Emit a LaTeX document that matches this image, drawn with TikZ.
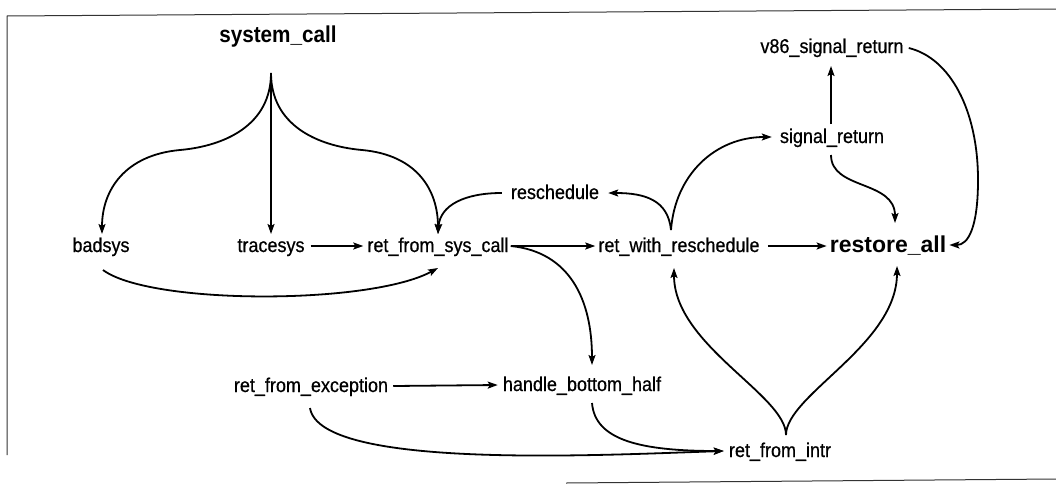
\documentclass[tikz,border=0pt]{standalone}
\usepackage{fontspec}
\setmainfont{Liberation Sans}
\newfontfamily\labelfont[FakeStretch=0.9,FakeBold=0.6]{Liberation Sans}
\newfontfamily\headfont[FakeStretch=0.9]{Liberation Sans Bold}
\usetikzlibrary{arrows.meta,calc}

\begin{document}
\begin{tikzpicture}[x=1pt,y=-1pt,
  lbl/.style={inner sep=0pt,anchor=base,font=\labelfont\fontsize{20}{22}\selectfont},
  head/.style={inner sep=0pt,anchor=base,font=\headfont\fontsize{23}{26}\selectfont},
  flow/.style={line width=1.8pt,-{Stealth[length=10pt,width=7pt,inset=2pt]}},
  frameline/.style={line width=1pt,black!80}]
\useasboundingbox (0,0) rectangle (1056,490);

% page frame
\draw[frameline] (7,455) -- (7,16) -- (1056,9);
\draw[frameline] (566,483) -- (1056,479);

% routines
\node[head] (sysc) at (278,42) {system\_call};
\node[lbl]  (badsys)   at (101,252) {badsys};
\node[lbl]  (tracesys) at (271,252) {tracesys};
\node[lbl]  (rfsc)     at (438,252) {ret\_from\_sys\_call};
\node[lbl]  (resched)  at (555,199) {reschedule};
\node[lbl]  (rwr)      at (679,252) {ret\_with\_reschedule};
\node[head,font=\bfseries\fontsize{23}{26}\selectfont] (restore) at (888,252) {restore\_all};
\node[lbl]  (sigret)   at (832,143) {signal\_return};
\node[lbl]  (v86)      at (832,53)  {v86\_signal\_return};
\node[lbl]  (rfe)      at (311,392) {ret\_from\_exception};
\node[lbl]  (hbh)      at (582,391) {handle\_bottom\_half};
\node[lbl]  (rfi)      at (780,457) {ret\_from\_intr};

% fork points and arrow ends
\coordinate (fork)   at ($(sysc.base)+(-7,31)$);
\coordinate (forkA)  at ($(rwr.base)+(-8,-22)$);
\coordinate (forkB)  at ($(rfi.base)+(6,-22)$);
\coordinate (rfscTop) at ($(rfsc.base)+(0,-18)$);
\coordinate (rfscBot) at ($(rfsc.base)+(0,16)$);
\coordinate (rfscOut) at ($(rfsc.base east)+(2,-6)$);
\coordinate (rfiIn)  at ($(rfi.base west)+(-5,-6)$);

% system_call fan-out
\draw[flow] (fork) .. controls (271,125) and (225,146) .. (180,150)
  .. controls (125,155) and (102,190) .. ($(badsys.base)+(1,-18)$);
\draw[flow] (fork) -- ($(tracesys.base)+(0,-18)$);
\draw[flow] (fork) .. controls (271,125) and (317,146) .. (362,150)
  .. controls (417,155) and (438,190) .. (rfscTop);

% into ret_from_sys_call
\draw[flow] ($(resched.base west)+(-9,-6)$) .. controls (465,193) and (440,205) .. (rfscTop);
\draw[flow] ($(tracesys.base east)+(6,-6)$) -- ($(rfsc.base west)+(-4,-6)$);
\draw[flow] ($(badsys.base)+(2,18)$) .. controls (150,305) and (370,305) .. (rfscBot);

% out of ret_from_sys_call
\draw[flow] (rfscOut) -- ($(rwr.base west)+(-3,-6)$);
\draw[flow] (rfscOut) .. controls (570,252) and (592,300) .. ($(hbh.base)+(10,-26)$);

% ret_with_reschedule
\draw[flow] (forkA) .. controls (668,200) and (645,193) .. ($(resched.base east)+(9,-6)$);
\draw[flow] (forkA) .. controls (675,175) and (715,137) .. ($(sigret.base west)+(-8,-6)$);
\draw[flow] ($(rwr.base east)+(8,-6)$) -- ($(restore.base west)+(-3,-6)$);

% signal handling
\draw[flow] ($(sigret.base)+(-1,-19)$) -- ($(v86.base)+(-1,13)$);
\draw[flow] ($(sigret.base)+(-1,12)$) .. controls (831,190) and (895,180) .. ($(restore.base)+(7,-29)$);
\draw[flow] ($(v86.base east)+(5,-5)$) .. controls (950,58) and (978,110) .. (978,180)
  .. controls (978,228) and (968,245) .. ($(restore.base east)+(3,-7)$);

% exceptions and interrupts
\draw[flow] ($(rfe.base east)+(5,-6)$) -- ($(hbh.base west)+(-5,-6)$);
\draw[flow] ($(rfe.base)+(-1,16)$) .. controls (320,470) and (600,455) .. (rfiIn);
\draw[flow] ($(hbh.base)+(10,12)$) .. controls (595,440) and (640,451) .. (rfiIn);
\draw[flow] (forkB) .. controls (786,395) and (674,345) .. ($(rwr.base)+(-5,16)$);
\draw[flow] (forkB) .. controls (786,395) and (897,345) .. ($(restore.base)+(9,14)$);
\end{tikzpicture}
\end{document}
